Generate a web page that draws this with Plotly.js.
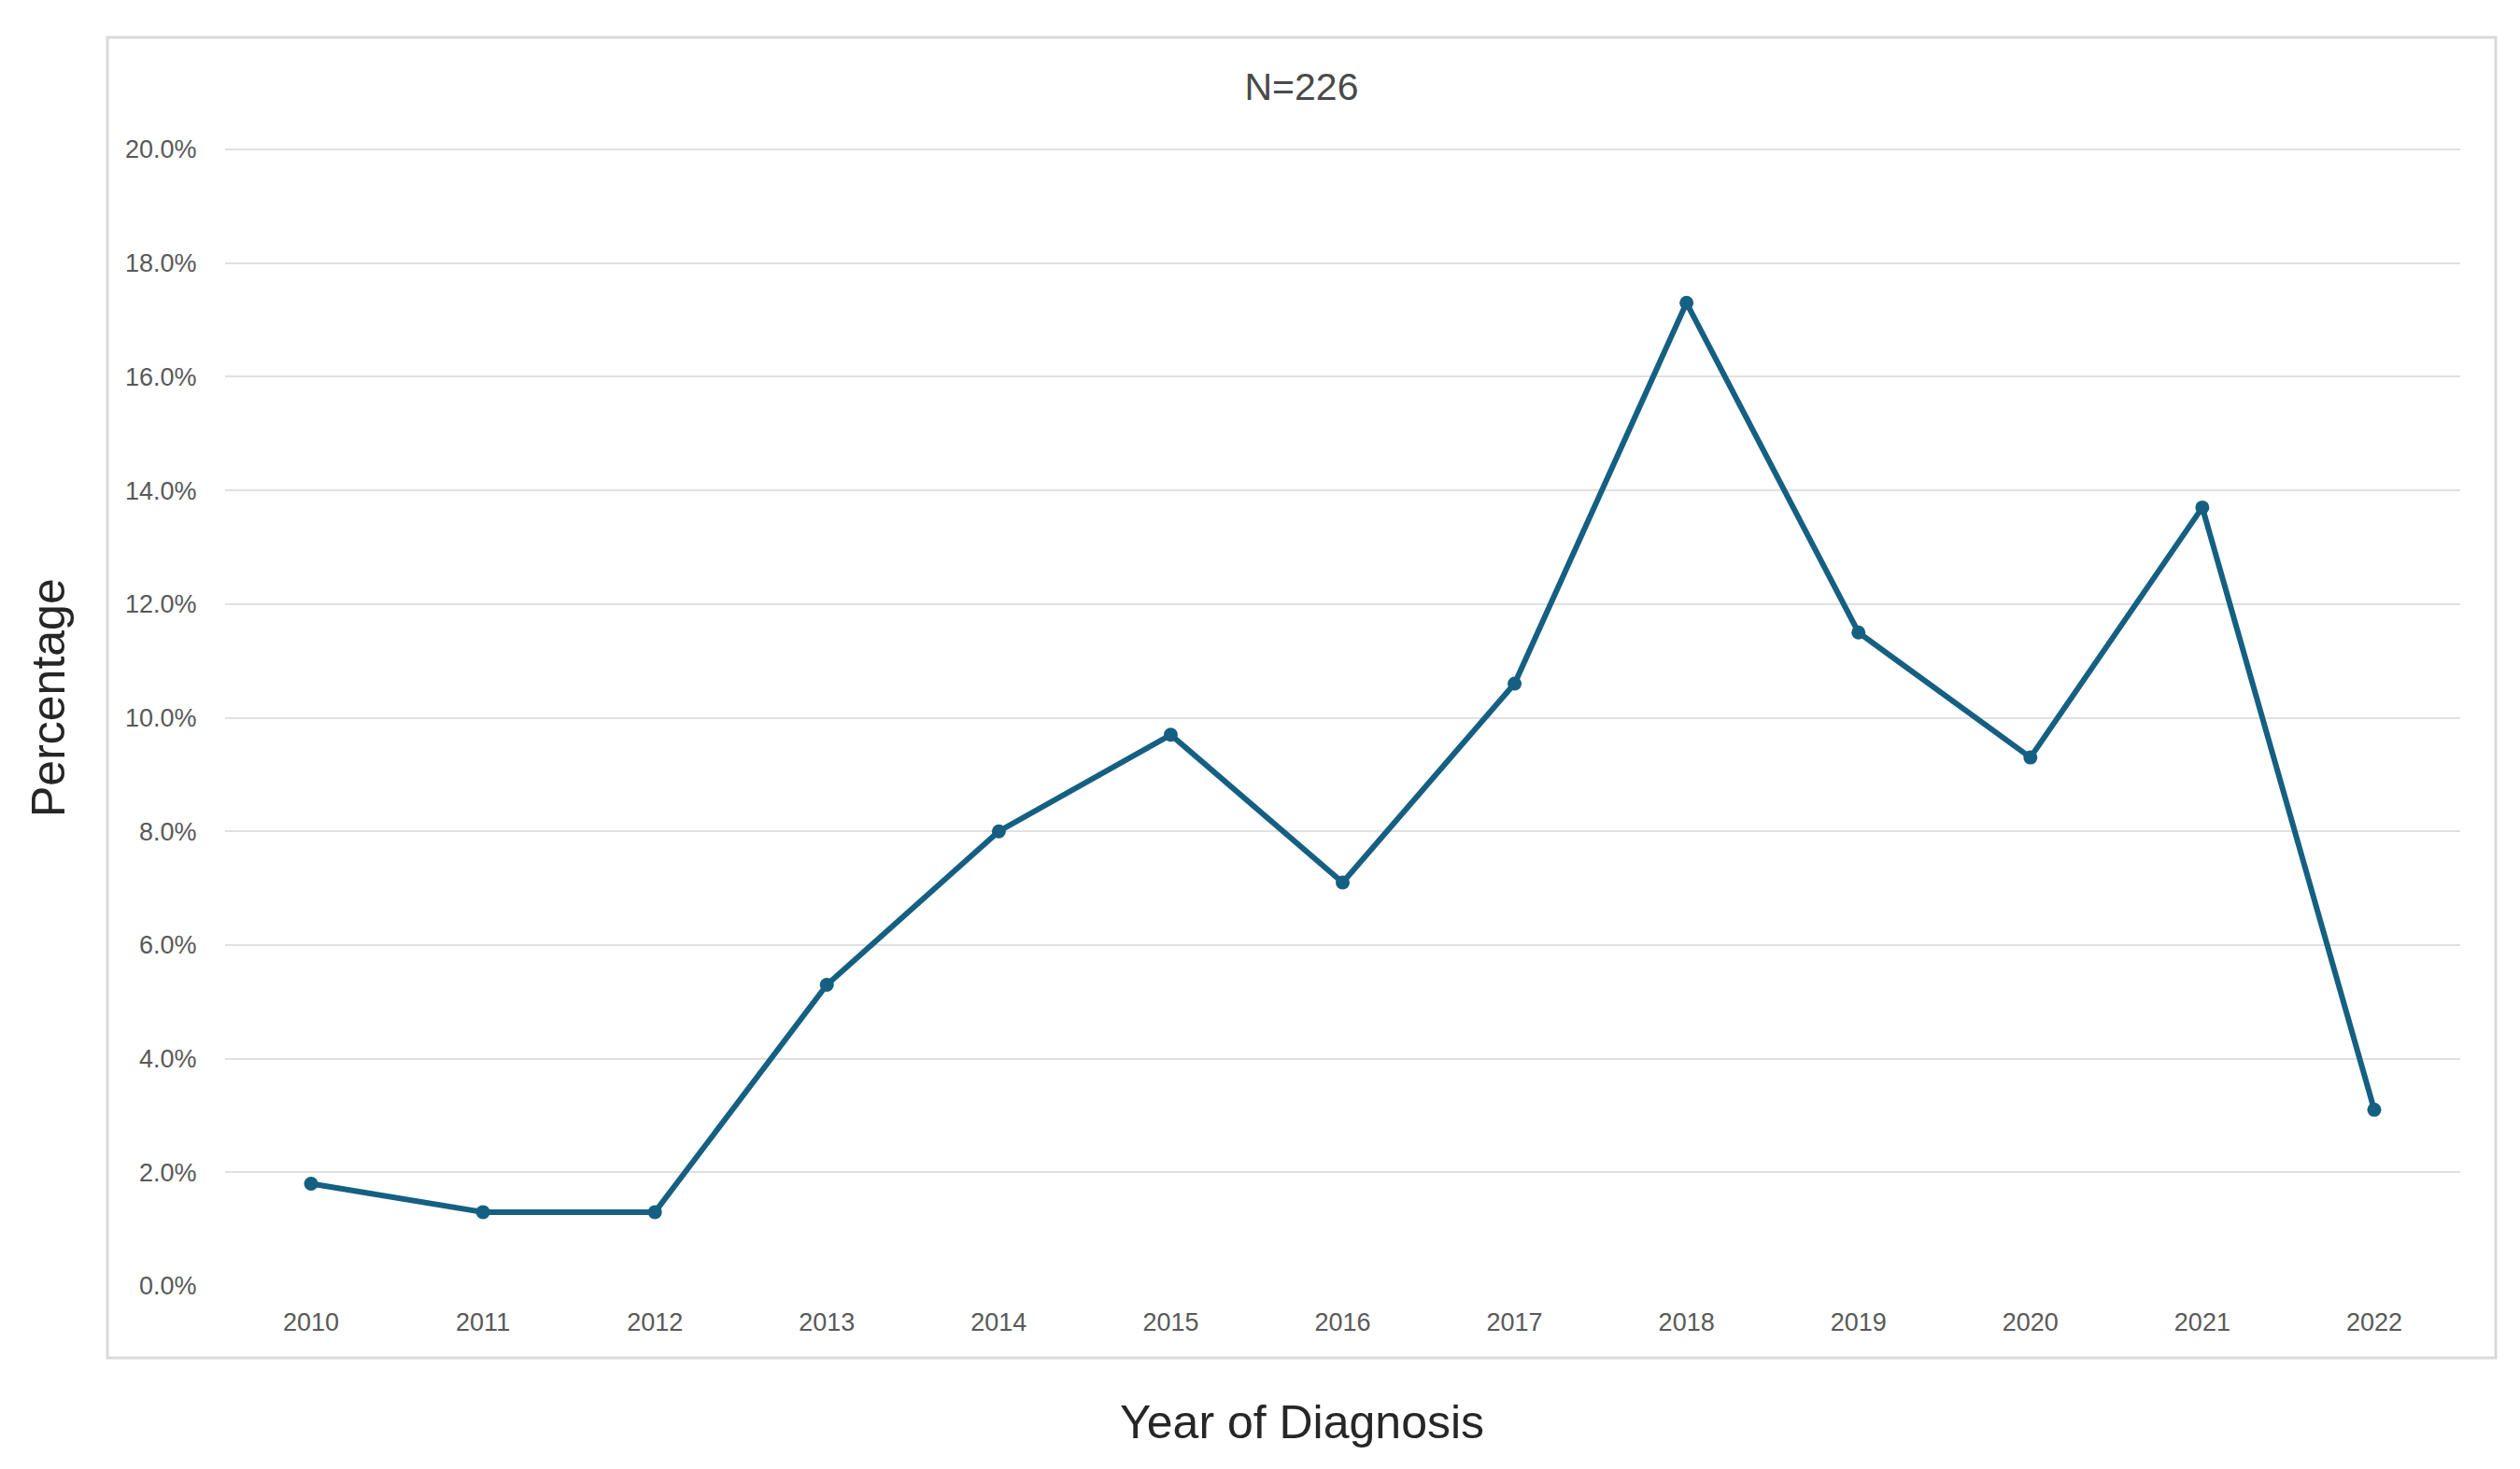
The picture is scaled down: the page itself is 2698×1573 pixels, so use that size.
<!DOCTYPE html>
<html>
<head>
<meta charset="utf-8">
<script src="https://cdn.plot.ly/plotly-3.0.1.min.js"></script>
<style>
  html, body { margin: 0; padding: 0; background: #ffffff; }
  #chart { width: 2698px; height: 1573px; }
</style>
</head>
<body>
<div id="chart"></div>
<script>
// ---- Data ----
const years = ["2010", "2011", "2012", "2013", "2014", "2015", "2016", "2017", "2018", "2019", "2020", "2021", "2022"];
const percentages = [1.8, 1.3, 1.3, 5.3, 8.0, 9.7, 7.1, 10.6, 17.3, 11.5, 9.3, 13.7, 3.1];
const yTickValues = [0, 2, 4, 6, 8, 10, 12, 14, 16, 18, 20];
const yTickLabels = ["0.0%", "2.0%", "4.0%", "6.0%", "8.0%", "10.0%", "12.0%", "14.0%", "16.0%", "18.0%", "20.0%"];
const chartTitle = "N=226";
const xTitle = "Year of Diagnosis";
const yTitle = "Percentage";

// ---- Layout geometry (pixels) ----
const W = 2698, H = 1573;
const yMax = 20.05;
const plotL = 241, plotR = 2634, plotT = 157, plotB = 1377;
const frame = { l: 115, r: 2672, t: 40, b: 1454 };
const pw = plotR - plotL, ph = plotB - plotT;
const px = v => (v - plotL) / pw;
const py = v => (plotB - v) / ph;

const trace = {
  x: years,
  y: percentages,
  type: "scatter",
  mode: "lines+markers",
  line: { color: "#156082", width: 6 },
  marker: { color: "#156082", size: 15 },
  hoverinfo: "x+y",
  cliponaxis: false
};

const layout = {
  width: W,
  height: H,
  paper_bgcolor: "#ffffff",
  plot_bgcolor: "#ffffff",
  margin: { l: plotL, r: W - plotR, t: plotT, b: H - plotB, pad: 0 },
  showlegend: false,
  font: { family: "Liberation Sans, Arial, sans-serif", color: "#595959" },
  title: {
    text: chartTitle,
    font: { size: 41, color: "#4a4a4a", family: "Liberation Sans, Arial, sans-serif" },
    xref: "paper", x: px((frame.l + frame.r) / 2), xanchor: "center",
    yref: "container", y: 1 - 93 / H, yanchor: "middle"
  },
  xaxis: {
    type: "category",
    range: [-0.5, years.length - 0.5],
    showgrid: false,
    zeroline: false,
    showline: false,
    ticks: "outside",
    ticklen: 15,
    tickcolor: "rgba(0,0,0,0)",
    tickfont: { size: 27, color: "#595959" },
    fixedrange: true
  },
  yaxis: {
    range: [0, yMax],
    tickvals: yTickValues,
    ticktext: yTickLabels,
    showgrid: true,
    gridcolor: "#e0e0e0",
    gridwidth: 2,
    zeroline: false,
    showline: false,
    ticks: "outside",
    ticklen: 24,
    tickcolor: "rgba(0,0,0,0)",
    tickfont: { size: 27, color: "#595959" },
    fixedrange: true
  },
  shapes: [
    {
      type: "rect", xref: "paper", yref: "paper",
      x0: px(frame.l), x1: px(frame.r), y0: py(frame.b), y1: py(frame.t),
      line: { color: "#d9d9d9", width: 3 }, fillcolor: "rgba(0,0,0,0)", layer: "below"
    }
  ],
  annotations: [
    {
      text: xTitle, xref: "paper", yref: "paper",
      x: px((frame.l + frame.r) / 2), y: py(1523),
      xanchor: "center", yanchor: "middle", showarrow: false,
      font: { size: 50, color: "#262626", family: "Liberation Sans, Arial, sans-serif" }
    },
    {
      text: yTitle, xref: "paper", yref: "paper",
      x: px(52), y: py((frame.t + frame.b) / 2),
      xanchor: "center", yanchor: "middle", showarrow: false, textangle: -90,
      font: { size: 50, color: "#262626", family: "Liberation Sans, Arial, sans-serif" }
    }
  ]
};

Plotly.newPlot("chart", [trace], layout, { displayModeBar: false, staticPlot: true });
</script>
</body>
</html>
